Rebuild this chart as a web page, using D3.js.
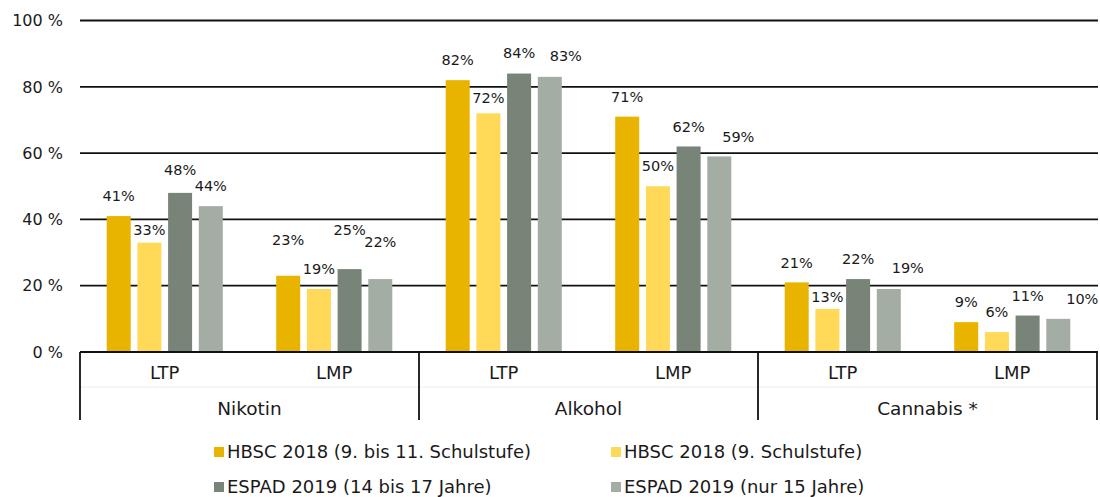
<!DOCTYPE html>
<html>
<head>
<meta charset="utf-8">
<script src="https://cdn.jsdelivr.net/npm/d3@7"></script>
<style>
  body { margin: 0; background: #fff; }
  svg text { font-family: "DejaVu Sans", sans-serif; fill: #1a1a1a; }
</style>
</head>
<body>
<div class="chart"></div>
<script>
const groups = ['Nikotin', 'Alkohol', 'Cannabis *'];
const subs = ['LTP', 'LMP'];
const series = [
    'HBSC 2018 (9. bis 11. Schulstufe)',
    'HBSC 2018 (9. Schulstufe)',
    'ESPAD 2019 (14 bis 17 Jahre)',
    'ESPAD 2019 (nur 15 Jahre)'
];
// values per series, in order Nikotin LTP, Nikotin LMP, Alkohol LTP, Alkohol LMP, Cannabis LTP, Cannabis LMP
const hbscAll = [41, 23, 82, 71, 21, 9];
const hbsc9 = [33, 19, 72, 50, 13, 6];
const espadAll = [48, 25, 84, 62, 22, 11];
const espad15 = [44, 22, 83, 59, 19, 10];
const yTicks = [0, 20, 40, 60, 80, 100];

const colors = ['#e8b400', '#ffd957', '#788478', '#a4ada4'];

// hand-placed label nudges [dx, dy] like in the original, key = series|cell
const nudge = {
    '1|0': [0, 7], '2|0': [0, -3],
    '0|1': [0, -16], '2|1': [0, -19], '3|1': [0, -17],
    '1|2': [0, 4], '2|2': [0, -1], '3|2': [16, -1],
    '3|3': [19, 0],
    '1|4': [0, 8], '3|4': [19, -1],
    '3|5': [24, 0]
};

const width = 1100;
const height = 497;
const plotLeft = 80, plotRight = 1097, plotTop = 20.5, plotBottom = 352;

const allValues = [hbscAll, hbsc9, espadAll, espad15];

const svg = d3.select('.chart')
    .append('svg')
    .attr('width', width)
    .attr('height', height);

const y = d3.scaleLinear()
    .domain([0, 100])
    .range([plotBottom, plotTop]);

const x0 = d3.scaleBand()
    .domain(groups)
    .range([plotLeft, plotRight]);

const x1 = d3.scaleBand()
    .domain(subs)
    .range([0, x0.bandwidth()]);

const x2 = d3.scaleBand()
    .domain(d3.range(series.length))
    .range([0, x1.bandwidth()])
    .paddingInner(0.218)
    .paddingOuter(0.87);

// gridlines + y labels
svg.append('g')
    .selectAll('line')
    .data(yTicks)
    .enter()
    .append('line')
    .attr('x1', plotLeft)
    .attr('x2', plotRight + 1)
    .attr('y1', (d) => y(d))
    .attr('y2', (d) => y(d))
    .attr('stroke', '#111')
    .attr('stroke-width', 1.8);

svg.append('g')
    .selectAll('text')
    .data(yTicks)
    .enter()
    .append('text')
    .attr('x', 63)
    .attr('y', (d) => y(d))
    .attr('dy', '0.36em')
    .attr('text-anchor', 'end')
    .attr('font-size', 16)
    .text((d) => d + ' %');

// cells
const cells = [];
groups.forEach((g, gi) => {
    subs.forEach((s, si) => {
        cells.push({ g, s, i: gi * subs.length + si });
    });
});

const bars = [];
cells.forEach((c) => {
    allValues.forEach((vals, k) => {
        bars.push({ cell: c, k, v: vals[c.i] });
    });
});

const barX = (d) => x0(d.cell.g) + x1(d.cell.s) + x2(d.k);

svg.append('g')
    .selectAll('rect')
    .data(bars)
    .enter()
    .append('rect')
    .attr('x', barX)
    .attr('y', (d) => y(d.v))
    .attr('width', x2.bandwidth())
    .attr('height', (d) => y(0) - y(d.v))
    .attr('fill', (d) => colors[d.k]);

svg.append('g')
    .selectAll('text')
    .data(bars)
    .enter()
    .append('text')
    .attr('x', (d) => barX(d) + x2.bandwidth() / 2 + (nudge[d.k + '|' + d.cell.i] || [0, 0])[0])
    .attr('y', (d) => y(d.v) - 20 + (nudge[d.k + '|' + d.cell.i] || [0, 0])[1])
    .attr('dy', '0.36em')
    .attr('text-anchor', 'middle')
    .attr('font-size', 14.5)
    .text((d) => d.v + '%');

// baseline drawn over bars
svg.append('line')
    .attr('x1', plotLeft)
    .attr('x2', plotRight + 1)
    .attr('y1', y(0))
    .attr('y2', y(0))
    .attr('stroke', '#111')
    .attr('stroke-width', 1.8);

// multi-level category axis
const axisBottom = 420;

svg.append('line')
    .attr('x1', plotLeft)
    .attr('x2', plotRight)
    .attr('y1', 387)
    .attr('y2', 387)
    .attr('stroke', '#ececec')
    .attr('stroke-width', 1);

svg.append('g')
    .selectAll('line')
    .data(groups.map((g) => x0(g)).concat([plotRight]))
    .enter()
    .append('line')
    .attr('x1', (d) => d)
    .attr('x2', (d) => d)
    .attr('y1', y(0))
    .attr('y2', axisBottom)
    .attr('stroke', '#111')
    .attr('stroke-width', 1.8);

svg.append('g')
    .selectAll('text')
    .data(cells)
    .enter()
    .append('text')
    .attr('x', (d) => x0(d.g) + x1(d.s) + x1.bandwidth() / 2)
    .attr('y', 373)
    .attr('dy', '0.36em')
    .attr('text-anchor', 'middle')
    .attr('font-size', 18)
    .text((d) => d.s);

svg.append('g')
    .selectAll('text')
    .data(groups)
    .enter()
    .append('text')
    .attr('x', (d) => x0(d) + x0.bandwidth() / 2)
    .attr('y', 408)
    .attr('dy', '0.36em')
    .attr('text-anchor', 'middle')
    .attr('font-size', 18.5)
    .text((d) => d);

// legend, 2 columns
const legendX = [214, 611];
const legendY = [452, 487];

const legend = svg.append('g')
    .selectAll('g')
    .data(series)
    .enter()
    .append('g')
    .attr('transform', (d, i) => `translate(${legendX[i % 2]}, ${legendY[Math.floor(i / 2)]})`);

legend.append('rect')
    .attr('x', 0)
    .attr('y', -5)
    .attr('width', 10)
    .attr('height', 10)
    .attr('fill', (d, i) => colors[i]);

legend.append('text')
    .attr('x', 13)
    .attr('y', 0)
    .attr('dy', '0.36em')
    .attr('font-size', 18)
    .text((d) => d);
</script>
</body>
</html>
